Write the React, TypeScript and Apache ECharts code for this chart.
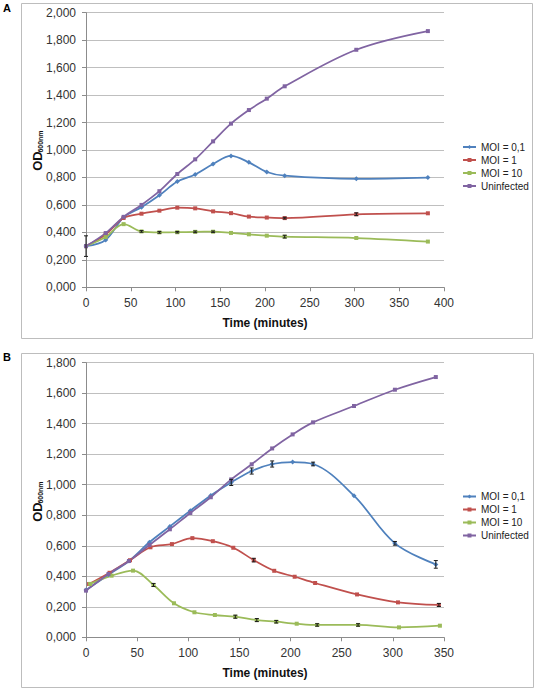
import React, { useEffect, useRef } from 'react';
import * as echarts from 'echarts';

const FONT = '"Liberation Sans", Arial, sans-serif';

const seriesNames = ['MOI = 0,1', 'MOI = 1', 'MOI = 10', 'Uninfected'];
const seriesColors = ['#4F81BD', '#C0504D', '#9BBB59', '#8064A2'];
const seriesSymbols = ['diamond', 'rect', 'rect', 'rect'];

// Panel A
const timeA = [0, 22, 42, 62, 82, 102, 122, 142, 162, 182, 202, 222, 302, 382];
const moi01A = [0.30, 0.345, 0.51, 0.583, 0.670, 0.770, 0.822, 0.898, 0.957, 0.910, 0.840, 0.813, 0.790, 0.799];
const moi1A = [0.30, 0.385, 0.505, 0.536, 0.558, 0.580, 0.575, 0.553, 0.540, 0.515, 0.508, 0.504, 0.532, 0.539];
const moi10A = [0.30, 0.366, 0.460, 0.407, 0.400, 0.401, 0.404, 0.405, 0.396, 0.386, 0.376, 0.369, 0.359, 0.333];
const uninfA = [0.30, 0.395, 0.513, 0.600, 0.700, 0.825, 0.932, 1.063, 1.192, 1.291, 1.374, 1.464, 1.730, 1.866];
// [time, mean, sd]
const errorsA = [
  [0, 0.30, 0.075],
  [62, 0.407, 0.006], [82, 0.400, 0.006], [102, 0.401, 0.005], [122, 0.404, 0.006], [142, 0.405, 0.005],
  [222, 0.369, 0.01], [302, 0.532, 0.01], [222, 0.504, 0.006],
];

// Panel B
const timeB01 = [0, 22, 42, 62, 82, 102, 122, 142, 162, 182, 202, 222, 262, 302, 342];
const moi01B = [0.31, 0.41, 0.50, 0.623, 0.727, 0.83, 0.93, 1.015, 1.09, 1.136, 1.149, 1.136, 0.928, 0.616, 0.478];
const timeB1 = [3, 23, 43, 63, 84, 104, 124, 144, 164, 184, 204, 224, 265, 305, 345];
const moi1B = [0.349, 0.423, 0.505, 0.59, 0.611, 0.65, 0.63, 0.587, 0.506, 0.436, 0.397, 0.356, 0.281, 0.229, 0.212];
const timeB10 = [4, 25, 46, 66, 86, 106, 126, 146, 167, 186, 206, 226, 266, 306, 346];
const moi10B = [0.35, 0.404, 0.437, 0.343, 0.223, 0.164, 0.146, 0.135, 0.113, 0.102, 0.089, 0.081, 0.081, 0.065, 0.076];
const timeBU = [0, 22, 42, 62, 82, 102, 122, 142, 162, 182, 202, 222, 262, 302, 342];
const uninfB = [0.306, 0.415, 0.50, 0.605, 0.708, 0.815, 0.918, 1.035, 1.134, 1.238, 1.33, 1.409, 1.516, 1.623, 1.706];
const errorsB = [
  [142, 1.015, 0.02], [162, 1.09, 0.02], [182, 1.136, 0.02], [222, 1.136, 0.012], [302, 0.616, 0.012], [342, 0.478, 0.025],
  [164, 0.506, 0.012], [345, 0.212, 0.01],
  [66, 0.343, 0.01], [146, 0.135, 0.01], [167, 0.113, 0.01], [186, 0.102, 0.008], [226, 0.081, 0.008], [266, 0.081, 0.008],
];

const yTicksFmt = (v: number) => v.toFixed(3).replace('.', ',');

function zip(t: number[], v: number[]) {
  return t.map((x, i) => [x, v[i]]);
}

function lineSeries(idx: number, data: number[][], panel: number) {
  return {
    type: 'line',
    name: seriesNames[idx],
    xAxisIndex: panel,
    yAxisIndex: panel,
    data,
    smooth: 0.35,
    symbol: seriesSymbols[idx],
    symbolSize: idx === 0 ? 5 : 4,
    showSymbol: true,
    lineStyle: { color: seriesColors[idx], width: 1.75 },
    itemStyle: { color: seriesColors[idx] },
    z: 3,
  };
}

function errorSeries(panel: number, data: number[][]) {
  return {
    type: 'custom',
    xAxisIndex: panel,
    yAxisIndex: panel,
    silent: true,
    z: 4,
    data: data.map((d) => [d[0], d[1] - d[2], d[1] + d[2]]),
    renderItem: (params: any, api: any) => {
      const x = api.value(0);
      const p1 = api.coord([x, api.value(1)]);
      const p2 = api.coord([x, api.value(2)]);
      const cap = 2;
      const st = { stroke: '#1a1a1a', lineWidth: 1 };
      return {
        type: 'group',
        children: [
          { type: 'line', shape: { x1: p1[0], y1: p1[1], x2: p2[0], y2: p2[1] }, style: st },
          { type: 'line', shape: { x1: p1[0] - cap, y1: p1[1], x2: p1[0] + cap, y2: p1[1] }, style: st },
          { type: 'line', shape: { x1: p2[0] - cap, y1: p2[1], x2: p2[0] + cap, y2: p2[1] }, style: st },
        ],
      };
    },
  };
}

function xAxis(panel: number, max: number) {
  return {
    type: 'value',
    gridIndex: panel,
    min: 0,
    max,
    interval: 50,
    axisLine: { show: true, onZero: false, lineStyle: { color: '#8c8c8c', width: 1 } },
    axisTick: { show: true, length: 4, lineStyle: { color: '#8c8c8c' } },
    axisLabel: { fontSize: 12, color: '#333', margin: 10, fontFamily: FONT },
    splitLine: { show: false },
  };
}

function yAxis(panel: number, max: number) {
  return {
    type: 'value',
    gridIndex: panel,
    min: 0,
    max,
    interval: 0.2,
    axisLine: { show: true, onZero: false, lineStyle: { color: '#8c8c8c', width: 1 } },
    axisTick: { show: true, length: 4, lineStyle: { color: '#8c8c8c' } },
    axisLabel: { fontSize: 12, color: '#333', margin: 10, fontFamily: FONT, formatter: yTicksFmt },
    splitLine: { show: true, lineStyle: { color: '#bfbfbf', width: 1 } },
  };
}

function legend(top: number) {
  return {
    orient: 'vertical',
    left: 462,
    top,
    itemWidth: 13,
    itemHeight: 5,
    itemGap: 3,
    padding: 0,
    data: seriesNames,
    textStyle: { fontSize: 10, color: '#222', fontFamily: FONT },
  };
}

function yTitle(cx: number, cy: number, sx: number, sy: number) {
  return [
    {
      type: 'text',
      x: cx,
      y: cy,
      rotation: Math.PI / 2,
      style: { text: 'OD', font: `bold 13px ${FONT}`, fill: '#111', align: 'center', verticalAlign: 'middle' },
    },
    {
      type: 'text',
      x: sx,
      y: sy,
      rotation: Math.PI / 2,
      style: { text: '600nm', font: `bold 7px ${FONT}`, fill: '#111', align: 'center', verticalAlign: 'middle' },
    },
  ];
}

const option: any = {
  animation: false,
  backgroundColor: '#fff',
  grid: [
    { left: 86, top: 12.7, width: 358, height: 274.6 },
    { left: 86, top: 362.7, width: 358, height: 274.6 },
  ],
  xAxis: [xAxis(0, 400), xAxis(1, 350)],
  yAxis: [yAxis(0, 2.0), yAxis(1, 1.8)],
  legend: [legend(142), legend(491.5)],
  series: [
    lineSeries(0, zip(timeA, moi01A), 0),
    lineSeries(1, zip(timeA, moi1A), 0),
    lineSeries(2, zip(timeA, moi10A), 0),
    lineSeries(3, zip(timeA, uninfA), 0),
    errorSeries(0, errorsA),
    lineSeries(0, zip(timeB01, moi01B), 1),
    lineSeries(1, zip(timeB1, moi1B), 1),
    lineSeries(2, zip(timeB10, moi10B), 1),
    lineSeries(3, zip(timeBU, uninfB), 1),
    errorSeries(1, errorsB),
  ],
  graphic: [
    { type: 'rect', shape: { x: 21.5, y: 3.5, width: 511, height: 335 }, style: { fill: 'none', stroke: '#bdbdbd', lineWidth: 1 }, z: -1 },
    { type: 'rect', shape: { x: 21.5, y: 353.5, width: 512, height: 334 }, style: { fill: 'none', stroke: '#bdbdbd', lineWidth: 1 }, z: -1 },
    { type: 'text', x: 7, y: 7.5, style: { text: 'A', font: `bold 11px ${FONT}`, fill: '#000', align: 'center', verticalAlign: 'middle' } },
    { type: 'text', x: 7, y: 357, style: { text: 'B', font: `bold 11px ${FONT}`, fill: '#000', align: 'center', verticalAlign: 'middle' } },
    ...yTitle(37, 161, 40.5, 141.5),
    ...yTitle(37, 512, 40.5, 492.5),
    { type: 'text', x: 265, y: 322.5, style: { text: 'Time (minutes)', font: `bold 12px ${FONT}`, fill: '#111', align: 'center', verticalAlign: 'middle' } },
    { type: 'text', x: 265, y: 672.5, style: { text: 'Time (minutes)', font: `bold 12px ${FONT}`, fill: '#111', align: 'center', verticalAlign: 'middle' } },
  ],
};

export default function App() {
  const ref = useRef<HTMLDivElement>(null);
  useEffect(() => {
    const chart = echarts.init(ref.current!, null, { renderer: 'svg' });
    chart.setOption(option);
    return () => chart.dispose();
  }, []);
  return (
    <div
      ref={ref}
      style={{ position: 'fixed', left: 0, top: 0, width: 537, height: 691, background: '#fff' }}
    />
  );
}
